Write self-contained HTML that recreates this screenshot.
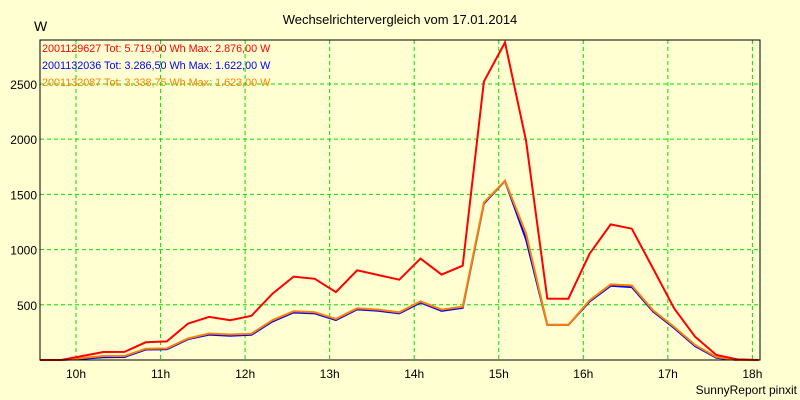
<!DOCTYPE html>
<html><head><meta charset="utf-8"><style>
body{margin:0;background:#ffffd2;}
svg{display:block;font-family:"Liberation Sans",Arial,sans-serif;}
</style></head><body>
<svg id="chart" width="800" height="400" xmlns="http://www.w3.org/2000/svg">
<rect x="0" y="0" width="800" height="400" fill="#ffffd2"/>
<text x="400" y="24" font-size="13" text-anchor="middle" fill="#000">Wechselrichtervergleich vom 17.01.2014</text>
<text x="34" y="31" font-size="14" fill="#000">W</text>
<g id="grid"></g>
<g id="ylabels"></g>
<g id="xlabels"></g>
<g id="series"></g>
<rect x="40" y="40" width="720" height="320" fill="none" stroke="#000" stroke-width="1"/>
<g font-size="10.8">
<text x="42" y="52" fill="#ff0000">2001129627 Tot: 5.719,00 Wh Max: 2.876,00 W</text>
<text x="42" y="69" fill="#0000ff">2001132036 Tot: 3.286,50 Wh Max: 1.622,00 W</text>
<text x="42" y="86" fill="#ff8000">2001132087 Tot: 3.338,75 Wh Max: 1.623,00 W</text>
</g>
<text x="797" y="394" font-size="12" text-anchor="end" fill="#000">SunnyReport pinxit</text>
</svg>
<script>
const startHour = 9.574;
const stepHours = 0.25;
const xTicks = [10,11,12,13,14,15,16,17,18];
const xTickLabels = ["10h","11h","12h","13h","14h","15h","16h","17h","18h"];
const yTicks = [500,1000,1500,2000,2500];
const yTickLabels = ["500","1000","1500","2000","2500"];
const red = [0,0,36,72,73,160,168,330,390,360,400,600,755,735,615,812,770,727,918,773,854,2522,2876,1982,556,555,963,1228,1189,830,468,210,45,5,0];
const blue = [0,0,12,25,27,95,98,188,230,220,228,350,430,422,362,458,446,422,520,446,472,1416,1622,1090,318,318,530,672,660,440,290,125,20,0,0];
const orange = [0,0,18,36,36,102,105,195,240,231,238,360,441,432,372,468,456,432,531,456,483,1426,1623,1145,318,318,540,685,675,450,300,135,27,0,0];

const X0=40,X1=760,Y0=360,Y1=40,XMIN=9.574,XMAX=18.09,YMAX=2898;
const xs=h=>X0+(h-XMIN)/(XMAX-XMIN)*(X1-X0);
const ys=v=>Y0-v/YMAX*(Y0-Y1);
const NS="http://www.w3.org/2000/svg";
const grid=document.getElementById('grid');
const yl=document.getElementById('ylabels');
const xl=document.getElementById('xlabels');
const ser=document.getElementById('series');
yTicks.forEach((v,i)=>{
  const l=document.createElementNS(NS,'line');
  
  
  l.setAttribute('x1',X0);l.setAttribute('x2',X1);l.setAttribute('y1',ys(v));l.setAttribute('y2',ys(v));
  l.setAttribute('stroke','#00e000');l.setAttribute('stroke-dasharray','4 3');
  grid.appendChild(l);
  const t=document.createElementNS(NS,'text');
  
  
  t.setAttribute('x',37);t.setAttribute('y',ys(v)+5);t.setAttribute('text-anchor','end');t.setAttribute('font-size','12');
  t.textContent=yTickLabels[i];yl.appendChild(t);
});
xTicks.forEach((h,i)=>{
  const l=document.createElementNS(NS,'line');
  
  
  l.setAttribute('x1',xs(h));l.setAttribute('x2',xs(h));l.setAttribute('y1',Y1);l.setAttribute('y2',Y0);
  l.setAttribute('stroke','#00e000');l.setAttribute('stroke-dasharray','4 3');
  grid.appendChild(l);
  const t=document.createElementNS(NS,'text');
  
  
  t.setAttribute('x',xs(h));t.setAttribute('y',378);t.setAttribute('text-anchor','middle');t.setAttribute('font-size','12');
  t.textContent=xTickLabels[i];xl.appendChild(t);
});
function draw(arr,color,name){
  const p=document.createElementNS(NS,'polyline');
  
  
  p.setAttribute('points',arr.map((v,i)=>xs(startHour+i*stepHours).toFixed(1)+','+ys(v).toFixed(1)).join(' '));
  p.setAttribute('fill','none');p.setAttribute('stroke',color);p.setAttribute('stroke-width','2');
  ser.appendChild(p);
}
draw(blue,'#0000ff','line-2001132036');
draw(orange,'#ff8000','line-2001132087');
draw(red,'#ff0000','line-2001129627');
</script>
</body></html>
